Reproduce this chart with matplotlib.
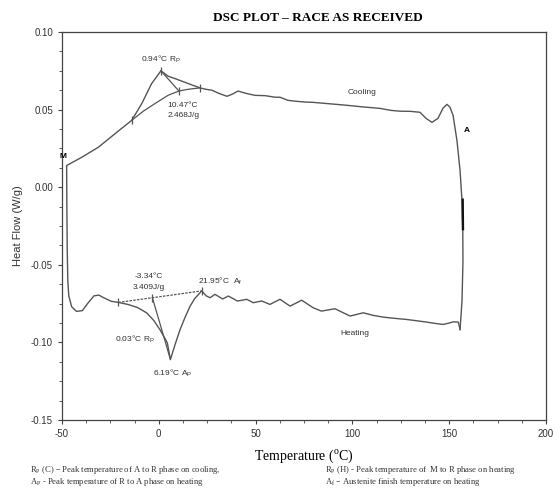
import numpy as np
import matplotlib
matplotlib.use("Agg")
import matplotlib.pyplot as plt
from matplotlib.ticker import MultipleLocator, FormatStrFormatter

plt.rcParams['axes.unicode_minus'] = False
plt.rcParams['font.family'] = ['Liberation Sans', 'DejaVu Sans']

# heating run: from the drop at M across to the right end
heat_T = [-47.6, -47.5, -47.3, -47.0, -46.5, -45.0, -42.5, -39.5, -36.5, -33.5, -31.0, -28.0,
          -24.5, -20.9, -16.0, -11.0, -6.2, -2.5, 0.6, 3.0, 4.4, 6.0, 8.5, 10.9, 13.5, 16.1,
          18.5, 20.4, 22.2, 24.5, 26.5, 29.0, 31.0, 33.0, 35.9, 38.0, 40.5, 43.0, 45.4, 48.8,
          53.2, 57.4, 62.6, 67.8, 73.8, 79.8, 84.0, 91.0, 98.8, 105.6, 110.5, 116.0, 122.0,
          128.0, 133.0, 138.4, 143.0, 146.9, 150.0, 152.1, 154.7, 155.6]
heat_H = [0.0135, -0.010, -0.040, -0.060, -0.0700, -0.0770, -0.0800, -0.0795, -0.0745, -0.0700,
          -0.0695, -0.0715, -0.0735, -0.0742, -0.0755, -0.0775, -0.0810, -0.0860, -0.0918,
          -0.0970, -0.1003, -0.1110, -0.1010, -0.0920, -0.0840, -0.0768, -0.0718, -0.0692,
          -0.0668, -0.0700, -0.0712, -0.0690, -0.0705, -0.0720, -0.0701, -0.0715, -0.0733,
          -0.0728, -0.0722, -0.0744, -0.0733, -0.0755, -0.0722, -0.0766, -0.0728, -0.0777,
          -0.0798, -0.0783, -0.0830, -0.0809, -0.0825, -0.0837, -0.0845, -0.0852, -0.0860,
          -0.0869, -0.0878, -0.0884, -0.0875, -0.0867, -0.0869, -0.0917]

# cooling run: up the right side and back to M
cool_T = [155.6, 156.6, 157.1, 157.0, 156.6, 155.6, 154.0, 152.0, 150.4, 148.9, 146.8, 144.2,
          141.1, 138.0, 134.9, 130.0, 124.6, 120.0, 114.3, 105.0, 97.2, 88.0, 79.6, 75.5, 70.0,
          66.7, 62.6, 60.0, 55.0, 49.7, 45.0, 40.9, 38.0, 35.2, 31.0, 27.5, 24.0, 21.3, 15.2,
          8.4, 4.9, 1.1, -3.7, -8.8, -14.0, -22.6, -31.2, -39.8, -47.6]
cool_H = [-0.0917, -0.0734, -0.0475, -0.028, -0.0087, 0.0107, 0.030, 0.0463, 0.0515, 0.0534,
          0.051, 0.0444, 0.0418, 0.0444, 0.0483, 0.0489, 0.0490, 0.0495, 0.0508, 0.0518, 0.0528,
          0.0538, 0.0547, 0.0549, 0.0555, 0.056, 0.058, 0.058, 0.059, 0.0592, 0.0605, 0.062,
          0.060, 0.0586, 0.0605, 0.0625, 0.0632, 0.064, 0.0668, 0.070, 0.0715, 0.075, 0.0668,
          0.0539, 0.0431, 0.0345, 0.0258, 0.0193, 0.014]

# integration baselines and peak lines
cool_base_T = [-14.0, -8.0, -2.0, 4.9, 10.4, 15.5, 21.3]
cool_base_H = [0.0431, 0.049, 0.0539, 0.0593, 0.062, 0.0632, 0.064]
cool_peak_T = [1.1, 10.4]
cool_peak_H = [0.075, 0.062]
heat_base_T = [-20.9, 22.2]
heat_base_H = [-0.0742, -0.0668]
heat_peak_T = [-3.3, 6.0]
heat_peak_H = [-0.0712, -0.111]
tick_T = [-14.0, 1.1, 10.4, 21.3, -20.9, -3.3, 22.2]
tick_H = [0.0431, 0.075, 0.062, 0.064, -0.0742, -0.0712, -0.0668]

fig = plt.figure(figsize=(5.57, 4.93), dpi=100)
ax = fig.add_axes([0.1113, 0.148, 0.869, 0.787])

lc = '#555555'
ax.plot(heat_T, heat_H, color=lc, lw=1.0)
ax.plot(cool_T, cool_H, color=lc, lw=1.0)
ax.plot([156.95, 157.1], [-0.008, -0.027], color='#111111', lw=1.7)
ax.plot(cool_base_T, cool_base_H, color=lc, lw=0.9)
ax.plot(cool_peak_T, cool_peak_H, color=lc, lw=0.9)
ax.plot(heat_base_T, heat_base_H, color=lc, lw=0.9, ls=(0, (2, 1)))
ax.plot(heat_peak_T, heat_peak_H, color=lc, lw=0.9)
ax.plot(tick_T, tick_H, ls='none', marker='|', ms=6, mew=0.9, color=lc)

ax.set_xlim(-50, 200)
ax.set_ylim(-0.15, 0.10)
ax.xaxis.set_major_locator(MultipleLocator(50))
ax.xaxis.set_minor_locator(MultipleLocator(12.5))
ax.yaxis.set_major_locator(MultipleLocator(0.05))
ax.yaxis.set_minor_locator(MultipleLocator(0.0125))
ax.yaxis.set_major_formatter(FormatStrFormatter('%.2f'))
ax.tick_params(which='both', direction='out', color='#444444', labelsize=7, labelcolor='#333333')
ax.tick_params(which='major', length=3)
ax.tick_params(which='minor', length=2)
for s in ax.spines.values():
    s.set_color('#444444')
    s.set_linewidth(0.9)

ax.set_ylabel('Heat Flow (W/g)', fontsize=8, color='#333333', labelpad=6)
ax.set_xlabel('Temperature ($^\\mathregular{o}$C)', fontsize=10, family='Liberation Serif',
              labelpad=6)

tk = dict(fontsize=6, color='#333333')
ax.text(1.1, 0.079, '0.94°C R$_\\mathregular{P}$', ha='center', va='bottom', **tk)
ax.text(4.6, 0.0528, '10.47°C', ha='left', va='center', **tk)
ax.text(4.6, 0.0463, '2.468J/g', ha='left', va='center', **tk)
ax.text(104.8, 0.061, 'Cooling', ha='center', va='center', **tk)
ax.text(-5.1, -0.0572, '-3.34°C', ha='center', va='center', **tk)
ax.text(-5.1, -0.0643, '3.409J/g', ha='center', va='center', **tk)
ax.text(20.2, -0.0604, '21.95°C  A$_\\mathregular{f}$', ha='left', va='center', **tk)
ax.text(-12.3, -0.098, '0.03°C R$_\\mathregular{P}$', ha='center', va='center', **tk)
ax.text(7.3, -0.1197, '6.19°C A$_\\mathregular{P}$', ha='center', va='center', **tk)
ax.text(101.3, -0.0945, 'Heating', ha='center', va='center', **tk)
ax.text(-49.3, 0.0198, 'M', ha='center', va='center', fontsize=6, fontweight='bold')
ax.text(159.0, 0.0366, 'A', ha='center', va='center', fontsize=6, fontweight='bold')

fig.text(318 / 557, 1 - 18 / 493, 'DSC PLOT \u2013 RACE AS RECEIVED', ha='center', va='center',
         fontsize=9.5, fontweight='bold', family='Liberation Serif')

fn = dict(fontsize=6.2, family='Liberation Serif', color='#333333', va='center', ha='left')
fig.text(30 / 557, 1 - 470 / 493, 'R$_\\mathregular{P}$ (C) \u2013 Peak temperature of A to R phase on cooling,', **fn)
fig.text(30 / 557, 1 - 482 / 493, 'A$_\\mathregular{P}$ - Peak temperature of R to A phase on heating', **fn)
fig.text(325 / 557, 1 - 470 / 493, 'R$_\\mathregular{P}$ (H) - Peak temperature of  M to R phase on heating', **fn)
fig.text(325 / 557, 1 - 482 / 493, 'A$_\\mathregular{f}$ \u2013 Austenite finish temperature on heating', **fn)

fig.savefig('out.png', dpi=100)
